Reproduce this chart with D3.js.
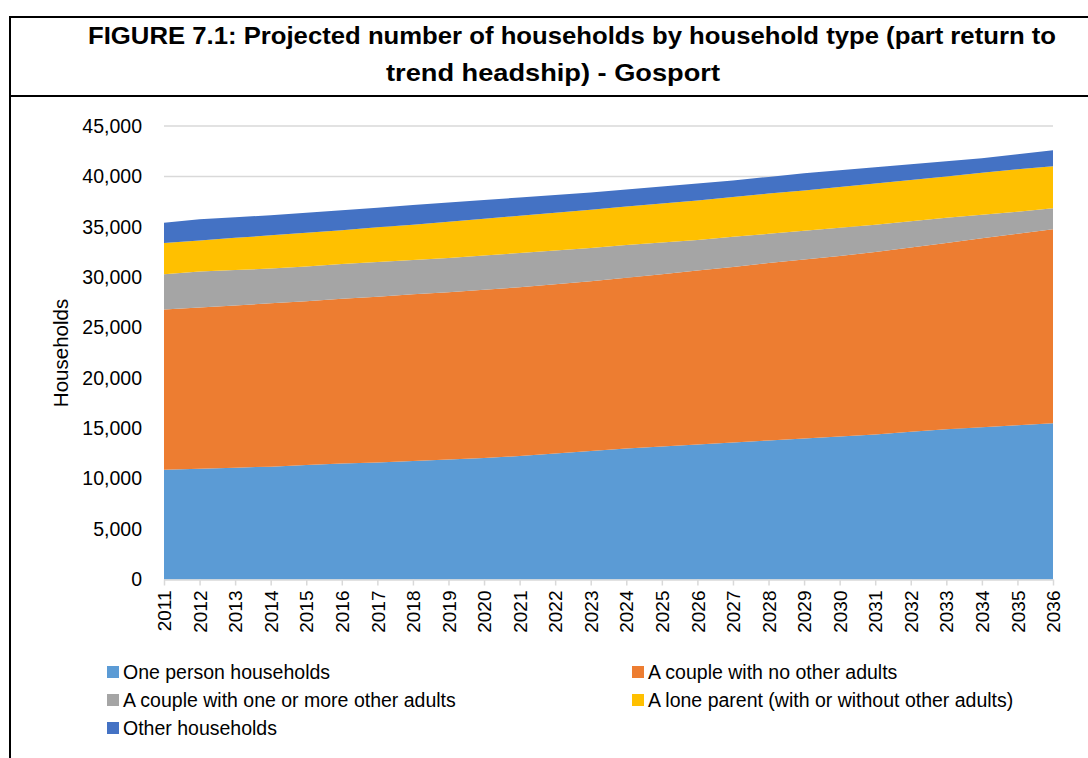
<!DOCTYPE html>
<html>
<head>
<meta charset="utf-8">
<script src="https://cdn.jsdelivr.net/npm/d3@7"></script>
<style>
  body { margin: 0; background: #fff; }
  svg { display: block; font-family: "Liberation Sans", Arial, sans-serif; }
</style>
</head>
<body>
<div id="chart"></div>
<script>
// years along the x axis
var years = d3.range(2011, 2037);

// households by type
var onePerson = [10900,11000,11100,11200,11350,11500,11600,11750,11900,12050,12250,12500,12750,13000,13200,13400,13600,13800,14000,14200,14400,14650,14900,15100,15300,15500];
var coupleNoOther = [15900,16000,16100,16200,16250,16350,16450,16550,16600,16700,16750,16800,16850,16950,17100,17250,17400,17600,17750,17900,18100,18300,18500,18750,19000,19250];
var coupleOther = [3500,3550,3500,3450,3450,3450,3450,3400,3400,3400,3400,3350,3300,3250,3150,3050,3000,2900,2850,2800,2700,2600,2500,2350,2200,2100];
var loneParent = [3100,3100,3200,3300,3350,3350,3450,3500,3600,3650,3700,3750,3800,3800,3850,3900,3950,4000,4000,4050,4100,4100,4100,4150,4200,4150];
var otherHh = [2000,2100,2050,2000,2000,2000,1950,1950,1900,1850,1800,1750,1700,1700,1700,1700,1650,1650,1700,1650,1600,1550,1500,1450,1500,1600];

var seriesNames = ["One person households", "A couple with no other adults",
  "A couple with one or more other adults", "A lone parent (with or without other adults)",
  "Other households"];
var seriesColors = ["#5B9BD5", "#ED7D31", "#A5A5A5", "#FFC000", "#4472C4"];
var yTicks = [0,5000,10000,15000,20000,25000,30000,35000,40000,45000];

var W = 1088, H = 758;
var svg = d3.select("#chart").append("svg")
    .attr("width", W)
    .attr("height", H);

// outer frame + title cell
svg.append("rect")
    .attr("x", 10).attr("y", 17)
    .attr("width", W + 20).attr("height", H + 20)
    .attr("fill", "none").attr("stroke", "#000").attr("stroke-width", 2);
svg.append("line")
    .attr("x1", 10).attr("x2", W + 10)
    .attr("y1", 96).attr("y2", 96)
    .attr("stroke", "#000").attr("stroke-width", 2);

var title = svg.append("text")
    .attr("text-anchor", "middle")
    .attr("font-weight", "bold")
    .attr("font-size", 24)
    .attr("fill", "#000");
title.append("tspan").attr("x", 572).attr("y", 44)
    .attr("textLength", 968).attr("lengthAdjust", "spacingAndGlyphs")
    .text("FIGURE 7.1: Projected number of households by household type (part return to");
title.append("tspan").attr("x", 553).attr("y", 81)
    .attr("textLength", 334).attr("lengthAdjust", "spacingAndGlyphs")
    .text("trend headship) - Gosport");

var margin = { left: 164, right: 1053, top: 126, bottom: 579.5 };

var keys = seriesNames;
var table = years.map(function(y, i){
    var row = { year: y };
    row[keys[0]] = onePerson[i];
    row[keys[1]] = coupleNoOther[i];
    row[keys[2]] = coupleOther[i];
    row[keys[3]] = loneParent[i];
    row[keys[4]] = otherHh[i];
    return row;
});

var x = d3.scaleLinear()
    .domain([2011, 2036])
    .range([margin.left, margin.right]);
var y = d3.scaleLinear()
    .domain([0, 45000])
    .range([margin.bottom, margin.top]);

// gridlines
svg.append("g")
    .selectAll("line")
    .data(yTicks.slice(1))
    .enter().append("line")
    .attr("x1", margin.left).attr("x2", margin.right)
    .attr("y1", function(d){ return y(d); })
    .attr("y2", function(d){ return y(d); })
    .attr("stroke", "#d9d9d9").attr("stroke-width", 1.5);

var stack = d3.stack().keys(keys);
var layers = stack(table);

var area = d3.area()
    .x(function(d){ return x(d.data.year); })
    .y0(function(d){ return y(d[0]); })
    .y1(function(d){ return y(d[1]); });

svg.append("g")
    .selectAll("path")
    .data(layers)
    .enter().append("path")
    .attr("d", area)
    .attr("fill", function(d, i){ return seriesColors[i]; });

// x axis
var xAxis = svg.append("g")
    .attr("transform", "translate(0," + margin.bottom + ")")
    .call(d3.axisBottom(x).tickValues(years).tickFormat(d3.format("d")).tickSize(6).tickSizeOuter(0));
xAxis.select(".domain").attr("stroke", "#d9d9d9").attr("stroke-width", 1.5);
xAxis.selectAll(".tick line").attr("stroke", "#d9d9d9").attr("stroke-width", 1.5);
xAxis.selectAll(".tick text")
    .attr("font-size", 19)
    .attr("font-family", "Liberation Sans, Arial, sans-serif")
    .attr("fill", "#000")
    .attr("transform", "rotate(-90)")
    .attr("text-anchor", "end")
    .attr("x", -11)
    .attr("y", 0)
    .attr("dy", "0.35em");

// y axis
var yAxis = svg.append("g")
    .attr("transform", "translate(" + margin.left + ",0)")
    .call(d3.axisLeft(y).tickValues(yTicks).tickFormat(d3.format(",")).tickSize(0));
yAxis.select(".domain").remove();
yAxis.selectAll(".tick text")
    .attr("font-size", 19.5)
    .attr("font-family", "Liberation Sans, Arial, sans-serif")
    .attr("fill", "#000")
    .attr("x", -22);

svg.append("text")
    .attr("transform", "translate(68,353) rotate(-90)")
    .attr("text-anchor", "middle")
    .attr("font-size", 20.5)
    .attr("fill", "#000")
    .text("Households");

// legend, two columns
var legendPos = [[107, 672], [632, 672], [107, 700], [632, 700], [107, 728]];
var legend = svg.append("g")
    .selectAll("g")
    .data(keys)
    .enter().append("g")
    .attr("transform", function(d, i){ return "translate(" + legendPos[i][0] + "," + legendPos[i][1] + ")"; });
legend.append("rect")
    .attr("x", 0).attr("y", -6)
    .attr("width", 12).attr("height", 12)
    .attr("fill", function(d, i){ return seriesColors[i]; });
legend.append("text")
    .attr("x", 16).attr("y", 0)
    .attr("dy", "0.35em")
    .attr("font-size", 19.5)
    .attr("fill", "#000")
    .text(function(d){ return d; });
</script>
</body>
</html>
